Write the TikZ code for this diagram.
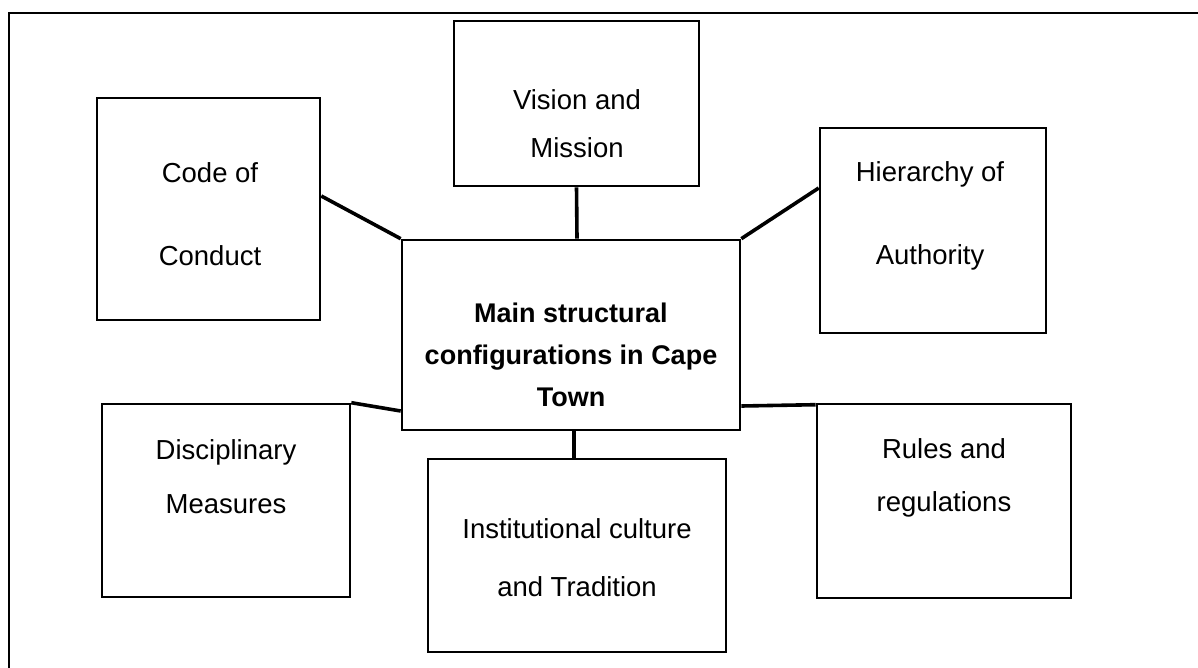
\documentclass[tikz,border=0pt]{standalone}
\usepackage{fontspec}
\setmainfont{Liberation Sans}
\begin{document}
\begin{tikzpicture}[x=1pt,y=-1pt,
  box/.style={draw=black,line width=2.6pt,minimum width=#1,inner sep=0pt},
  lbl/.style={align=center,inner sep=0pt,font=\fontsize{27.5}{#1}\selectfont},
  conn/.style={line width=3.6pt},
  frame/.style={line width=2.6pt}]
\useasboundingbox (0,0) rectangle (1198,668);
\clip (0,0) rectangle (1198,668);
\fill[white] (0,0) rectangle (1198,668);
\draw[frame] (9,690) -- (9,13) -- (1220,13);
% boxes
\node[box=245pt,minimum height=165pt] (vision) at (576.5,103.5) {};
\node[box=223pt,minimum height=222pt] (code) at (208.5,209) {};
\node[box=226pt,minimum height=205pt] (hier) at (933,230.5) {};
\node[box=338pt,minimum height=190pt] (center) at (571,335) {};
\node[box=248pt,minimum height=193pt] (disc) at (226,500.5) {};
\node[box=298pt,minimum height=193pt] (inst) at (577,555.5) {};
\node[box=254pt,minimum height=194pt] (rules) at (944,501) {};
% texts
\node[lbl=48] (visiont) at (577,124) {Vision and\\Mission};
\node[lbl=83] (codet) at (210,214) {Code of\\Conduct};
\node[lbl=83] (hiert) at (930,216) {Hierarchy of\\Authority};
\node[lbl=42,font=\fontsize{27}{42}\selectfont\bfseries] (centert) at (571,355) {Main structural\\configurations in Cape\\Town};
\node[lbl=54] (disct) at (226,477) {Disciplinary\\Measures};
\node[lbl=58] (instt) at (577,558) {Institutional culture\\and Tradition};
\node[lbl=53] (rulest) at (944,478) {Rules and\\regulations};
% connectors
\draw[conn] ([yshift=13pt]code.east) -- (center.north west);
\draw[conn] (vision.south) -- ([xshift=6pt]center.north);
\draw[conn] (center.north east) -- ([yshift=42.5pt]hier.west);
\draw[conn] (disc.north east) -- ([yshift=-76pt]center.west);
\draw[conn] ([yshift=-71pt]center.east) -- ([yshift=-2pt]rules.north west);
\draw[conn] ([xshift=3pt]center.south) -- ([xshift=-3pt]inst.north);
\end{tikzpicture}
\end{document}
